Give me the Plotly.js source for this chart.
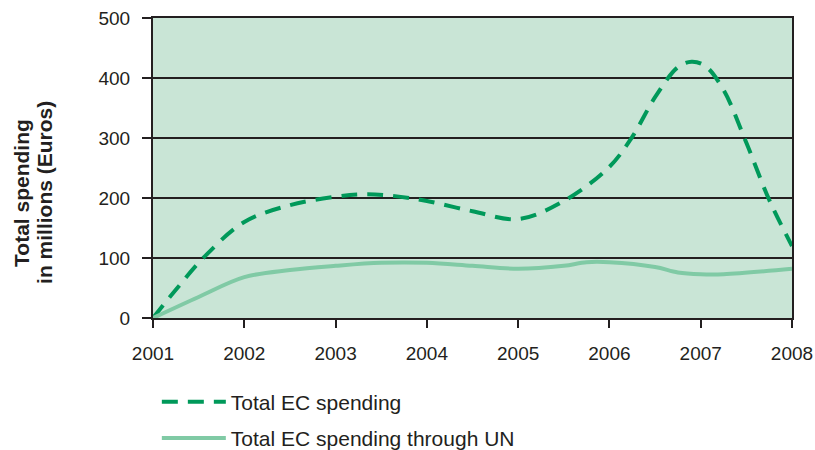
<!DOCTYPE html>
<html>
<head>
<meta charset="utf-8">
<script src="https://cdn.plot.ly/plotly-3.0.1.min.js"></script>
<style>html,body{margin:0;padding:0;background:#fff;}#chart{width:815px;height:450px;}</style>
</head>
<body>
<div id="chart"></div>
<script>
// Total EC spending (dashed)
var ecYears = [2001, 2001.25, 2001.55, 2002, 2002.5, 2003, 2003.3, 2003.6, 2004, 2004.5, 2005, 2005.5, 2006, 2006.25, 2006.5, 2006.75, 2006.9, 2007.05, 2007.25, 2007.5, 2007.75, 2008];
var ecValues = [0, 47, 100, 160, 188, 202, 206, 204, 195, 178, 165, 195, 252, 302, 368, 418, 427, 420, 380, 292, 197, 120];
// Total EC spending through UN (solid)
var unYears = [2001, 2001.5, 2002, 2002.5, 2003, 2003.5, 2004, 2004.5, 2005, 2005.5, 2005.75, 2006, 2006.5, 2006.75, 2007, 2007.25, 2008];
var unValues = [0, 35, 68, 80, 87, 92, 92, 87, 82, 87, 93, 93, 85, 76, 73, 73, 82];
var xTicks = [2001, 2002, 2003, 2004, 2005, 2006, 2007, 2008];
var yTicks = [0, 100, 200, 300, 400, 500];
var seriesNames = ["Total EC spending", "Total EC spending through UN"];
var yTitleLines = ["<b>Total spending</b>", "<b>in millions (Euros)</b>"];

var traces = [
  {x: ecYears, y: ecValues, type: "scatter", mode: "lines", name: seriesNames[0], legendgroup: "a",
   line: {color: "#00995a", width: 4, dash: "16px,10px", shape: "spline", smoothing: 1}},
  {x: unYears, y: unValues, type: "scatter", mode: "lines", name: seriesNames[1], legendgroup: "b",
   line: {color: "#80caa5", width: 4, shape: "spline", smoothing: 1}}
];

var layout = {
  width: 815, height: 450,
  margin: {l: 153, r: 23, t: 18, b: 132, autoexpand: false},
  paper_bgcolor: "#ffffff",
  plot_bgcolor: "#c9e5d6",
  font: {family: "Liberation Sans, Arial, sans-serif", size: 19, color: "#231f20"},
  showlegend: true,
  legend: {x: 0.006, y: -0.212, xanchor: "left", yanchor: "top", orientation: "v", itemwidth: 64,
           font: {size: 21, color: "#231f20"}, tracegroupgap: 6, bgcolor: "rgba(0,0,0,0)"},
  xaxis: {range: [2001, 2008], tickvals: xTicks, ticktext: xTicks.map(String),
          showgrid: false, zeroline: false, showline: true, linecolor: "#231f20", linewidth: 2,
          mirror: true, ticks: "outside", ticklen: 8, tickwidth: 2, tickcolor: "#231f20",
          ticklabelstandoff: 9, tickfont: {size: 19}, fixedrange: true},
  yaxis: {range: [0, 500], tickvals: yTicks, showgrid: true, gridcolor: "#231f20", gridwidth: 2,
          zeroline: false, showline: true, linecolor: "#231f20", linewidth: 2, mirror: true,
          ticks: "outside", ticklen: 9, tickwidth: 2, tickcolor: "#231f20", tickfont: {size: 19},
          ticklabelstandoff: 8, fixedrange: true},
  annotations: [
    {text: yTitleLines[0], xref: "paper", yref: "paper", x: -0.205, y: 0.417, xanchor: "center", yanchor: "middle",
     textangle: -90, showarrow: false, font: {size: 21, color: "#231f20"}},
    {text: yTitleLines[1], xref: "paper", yref: "paper", x: -0.169, y: 0.417, xanchor: "center", yanchor: "middle",
     textangle: -90, showarrow: false, font: {size: 21, color: "#231f20"}}
  ]
};

Plotly.newPlot("chart", traces, layout, {displayModeBar: false, staticPlot: true});
</script>
</body>
</html>
